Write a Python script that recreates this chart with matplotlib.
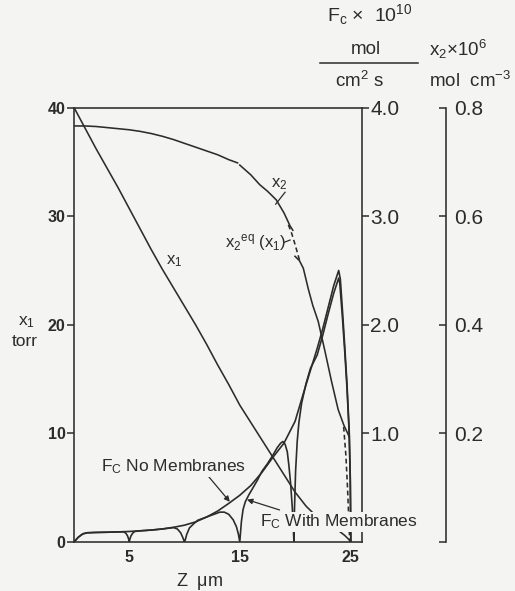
import numpy as np
import matplotlib
matplotlib.use('Agg')
import matplotlib.pyplot as plt
from matplotlib.lines import Line2D

plt.rcParams['font.family'] = ['Liberation Sans', 'DejaVu Sans']
plt.rcParams['mathtext.fontset'] = 'custom'
plt.rcParams['mathtext.rm'] = 'Liberation Sans'
plt.rcParams['mathtext.it'] = 'Liberation Sans'
plt.rcParams['mathtext.bf'] = 'Liberation Sans:bold'

# --- datos ---
# x1 (torr) frente a z (um)
z_x1 = [0, 1, 2, 3, 4, 5, 6, 7, 8, 9, 10, 11, 12, 13, 14, 15, 16, 17, 18, 19,
        20, 21, 22, 23, 24, 24.5, 25]
x1 = [40, 38.1, 36.2, 34.4, 32.6, 30.7, 28.8, 26.9, 25.1, 23.4, 21.7, 20.0,
      18.2, 16.3, 14.5, 12.6, 11.0, 9.4, 7.8, 6.2, 4.6, 3.3, 2.3, 1.6, 1.0,
      0.6, 0.1]

# Fc x 1e10 sin membranas
z_fc_no = [0, 0.4, 0.8, 1.2, 2, 3, 4, 5, 6, 7, 8, 9, 10, 11, 12, 13, 14, 15,
           16, 17, 18, 19, 20, 21, 22, 22.5, 23, 23.5, 23.95, 24.1, 24.3,
           24.5, 24.7, 24.9, 25.0, 25.05]
fc_no = [0, 0.045, 0.075, 0.085, 0.088, 0.09, 0.093, 0.097, 0.103, 0.11,
         0.12, 0.135, 0.155, 0.185, 0.23, 0.285, 0.355, 0.43, 0.52, 0.64,
         0.78, 0.91, 1.11, 1.45, 1.78, 1.96, 2.16, 2.36, 2.50, 2.42, 2.12,
         1.80, 1.46, 1.03, 0.6, 0]

# Fc x 1e10 con membranas (caídas a cero en 5, 10, 15, 20, 25 um)
z_fc_mem = [0, 0.4, 0.8, 1.2, 2, 3, 4, 4.5, 4.7, 4.85, 4.95, 5.0, 5.05, 5.15,
            5.3, 5.5, 6, 7, 8, 9.0, 9.35, 9.65, 9.85, 9.95, 10.0, 10.07,
            10.2, 10.45, 10.8, 11.2, 12, 12.8, 13.2, 13.6, 14.0, 14.4, 14.7,
            14.88, 15.0, 15.07, 15.15, 15.3, 15.5, 15.8, 16.2, 16.6, 17.0,
            17.5, 18.0, 18.4, 18.7, 18.9, 19.1, 19.3, 19.45, 19.6, 19.75,
            19.85, 19.9, 19.95, 20.05, 20.2, 20.35, 20.6, 21.0, 21.4, 22.0,
            22.5, 23.0, 23.5, 23.95, 24.05, 24.3, 24.5, 24.7, 24.9, 25.0,
            25.05]
fc_mem = [0, 0.045, 0.075, 0.085, 0.088, 0.09, 0.093, 0.094, 0.08, 0.055,
          0.025, 0, 0.025, 0.055, 0.08, 0.097, 0.103, 0.11, 0.12, 0.133,
          0.12, 0.085, 0.04, 0.012, 0, 0.02, 0.07, 0.13, 0.165, 0.2, 0.23,
          0.26, 0.275, 0.275, 0.255, 0.205, 0.14, 0.07, 0, 0.09, 0.19, 0.30,
          0.37, 0.43, 0.50, 0.57, 0.65, 0.72, 0.80, 0.87, 0.91, 0.925, 0.90,
          0.83, 0.70, 0.54, 0.32, 0.12, 0, 0.30, 0.65, 0.93, 1.10, 1.28,
          1.46, 1.60, 1.72, 1.90, 2.10, 2.29, 2.43, 2.38, 2.05, 1.75, 1.42,
          1.00, 0.55, 0]

# x2 x 1e6 mol cm-3 (tres tramos continuos)
z_x2_a = [0, 1, 2, 3, 4, 5, 6, 7, 8, 9, 10, 11, 12, 13, 14, 14.8]
x2_a = [0.766, 0.766, 0.765, 0.763, 0.761, 0.759, 0.756, 0.752, 0.747,
        0.741, 0.734, 0.727, 0.720, 0.713, 0.704, 0.698]
z_x2_b = [15.0, 16, 16.8, 17.5, 18.3, 19.0, 19.55, 19.8]
x2_b = [0.694, 0.676, 0.658, 0.646, 0.630, 0.606, 0.582, 0.574]
z_x2_c = [20.0, 20.4, 20.75, 21.2, 21.6, 22.1, 22.7, 23.3, 23.9, 24.4, 24.9]
x2_c = [0.526, 0.518, 0.504, 0.466, 0.436, 0.406, 0.352, 0.296, 0.244,
        0.216, 0.194]

# x2 de equilibrio (x1), tramos discontinuos
z_eq_a = [19.4, 19.7, 20.0, 20.25, 20.45]
x2_eq_a = [0.584, 0.568, 0.548, 0.530, 0.516]
z_eq_b = [24.4, 24.6, 24.75, 24.85, 24.92, 24.95]
x2_eq_b = [0.212, 0.16, 0.10, 0.05, 0.016, 0]

# --- estilo ---
W, H = 515, 591
bg = '#f4f4f2'
ink = '#2c2c2c'
lw = 1.15


def fx(px):
    return px / W


def fy(py):
    return 1 - py / H


fig = plt.figure(figsize=(W / 100, H / 100), dpi=100, facecolor=bg)
ax = fig.add_axes([fx(74), fy(542), (362 - 74) / W, (542 - 107.5) / H])
ax.set_facecolor('none')

# eje izquierdo x1
ax.set_xlim(0, 26.06)
ax.set_ylim(0, 40)
ax.plot(z_x1, x1, color=ink, lw=lw)
ax.set_xticks([5, 15, 25])
ax.set_xticklabels(['5', '15', '25'], fontsize=11.5, fontweight='bold',
                   color=ink)
ax.tick_params(axis='x', length=0, pad=6)
ax.set_yticks([0, 10, 20, 30, 40])
ax.set_yticklabels(['0', '10', '20', '30', '40'], fontsize=11.5,
                   fontweight='bold', color=ink)
ax.tick_params(axis='y', direction='out', length=5, width=1.1, pad=1,
               colors=ink)
for s in ax.spines.values():
    s.set_color(ink)
    s.set_linewidth(1.15)

# eje Fc
axf = ax.twinx()
axf.set_ylim(0, 4)
axf.plot(z_fc_no, fc_no, color=ink, lw=1.2)
axf.plot(z_fc_mem, fc_mem, color=ink, lw=1.2)
axf.set_yticks([1, 2, 3, 4])
axf.set_yticklabels(['1.0', '2.0', '3.0', '4.0'], fontsize=15, color=ink)
axf.tick_params(axis='y', direction='out', length=5, width=1.1, pad=1,
                colors=ink)
for s in axf.spines.values():
    s.set_visible(False)

# eje x2
axx = ax.twinx()
axx.set_ylim(0, 0.8)
axx.spines['right'].set_position(('axes', (446 - 74) / 288))
for k in ['left', 'top', 'bottom']:
    axx.spines[k].set_visible(False)
axx.spines['right'].set_color(ink)
axx.spines['right'].set_linewidth(1.15)
axx.plot(z_x2_a, x2_a, color=ink, lw=lw)
axx.plot(z_x2_b, x2_b, color=ink, lw=lw)
axx.plot(z_x2_c, x2_c, color=ink, lw=lw)
axx.plot(z_eq_a, x2_eq_a, color=ink, lw=lw, ls=(0, (3, 2)))
axx.plot(z_eq_b, x2_eq_b, color=ink, lw=lw, ls=(0, (3, 2)))
axx.set_yticks([0, 0.2, 0.4, 0.6, 0.8])
axx.set_yticklabels(['', '0.2', '0.4', '0.6', '0.8'], fontsize=15,
                    color=ink)
axx.tick_params(axis='y', direction='in', length=5, width=1.1, pad=6,
                colors=ink)

# etiquetas dentro del gráfico (en coordenadas del eje x1)
tr = ax.transData
box = dict(facecolor=bg, edgecolor='none', pad=0.5)
axx.text(9.1, 25.9, 'x$_1$', transform=tr, fontsize=12, color=ink,
         ha='center', va='center')
axx.text(18.55, 32.9, 'x$_2$', transform=tr, fontsize=12, color=ink,
         ha='center', va='center')
axx.plot([19.1, 18.25], [32.2, 31.1], transform=tr, color=ink, lw=0.9)
axx.text(16.4, 27.6, r'x$_2$$^{\mathregular{eq}}$ (x$_1$)', transform=tr,
         fontsize=12, color=ink, ha='center', va='center')
axx.plot([19.05, 19.55], [27.6, 27.8], transform=tr, color=ink, lw=0.9)

axx.text(9.0, 6.9, 'F$_C$ No Membranes', transform=tr, fontsize=12.5,
         color=ink, ha='center', va='center', bbox=box, zorder=5)
axx.annotate('', xy=(14.1, 3.7), xytext=(12.2, 6.0), xycoords=tr,
             textcoords=tr,
             arrowprops=dict(arrowstyle='-|>', color=ink, lw=0.9,
                             mutation_scale=8, shrinkA=0, shrinkB=0))
axx.text(24.0, 1.85, 'F$_C$ With Membranes', transform=tr, fontsize=12.5,
         color=ink, ha='center', va='center', bbox=box, zorder=5,
         clip_on=False)
axx.annotate('', xy=(15.65, 3.9), xytext=(18.6, 2.95), xycoords=tr,
             textcoords=tr,
             arrowprops=dict(arrowstyle='-|>', color=ink, lw=0.9,
                             mutation_scale=8, shrinkA=0, shrinkB=0))

# rótulos de los ejes
fig.text(fx(27), fy(322), 'x$_1$', fontsize=12.5, color=ink, ha='center',
         va='center')
fig.text(fx(25), fy(341), 'torr', fontsize=12.5, color=ink, ha='center',
         va='center')
fig.text(fx(200), fy(581), r'Z  $\mu$m', fontsize=13, color=ink,
         ha='center', va='center')

fig.text(fx(370), fy(15), r'F$_c$ $\times$  10$^{10}$', fontsize=14,
         color=ink, ha='center', va='center')
fig.text(fx(366), fy(50), 'mol', fontsize=13.5, color=ink, ha='center',
         va='center')
fig.add_artist(Line2D([fx(320), fx(418)], [fy(63), fy(63)],
                      transform=fig.transFigure, color=ink, lw=1.1))
fig.text(fx(359), fy(81), 'cm$^2$ s', fontsize=13.5, color=ink,
         ha='center', va='center')
fig.text(fx(458), fy(49), r'x$_2$$\times$10$^6$', fontsize=13.5, color=ink,
         ha='center', va='center')
fig.text(fx(470), fy(81), 'mol  cm$^{-3}$', fontsize=13.5, color=ink,
         ha='center', va='center')

fig.savefig('out.png', dpi=100, facecolor=bg)
